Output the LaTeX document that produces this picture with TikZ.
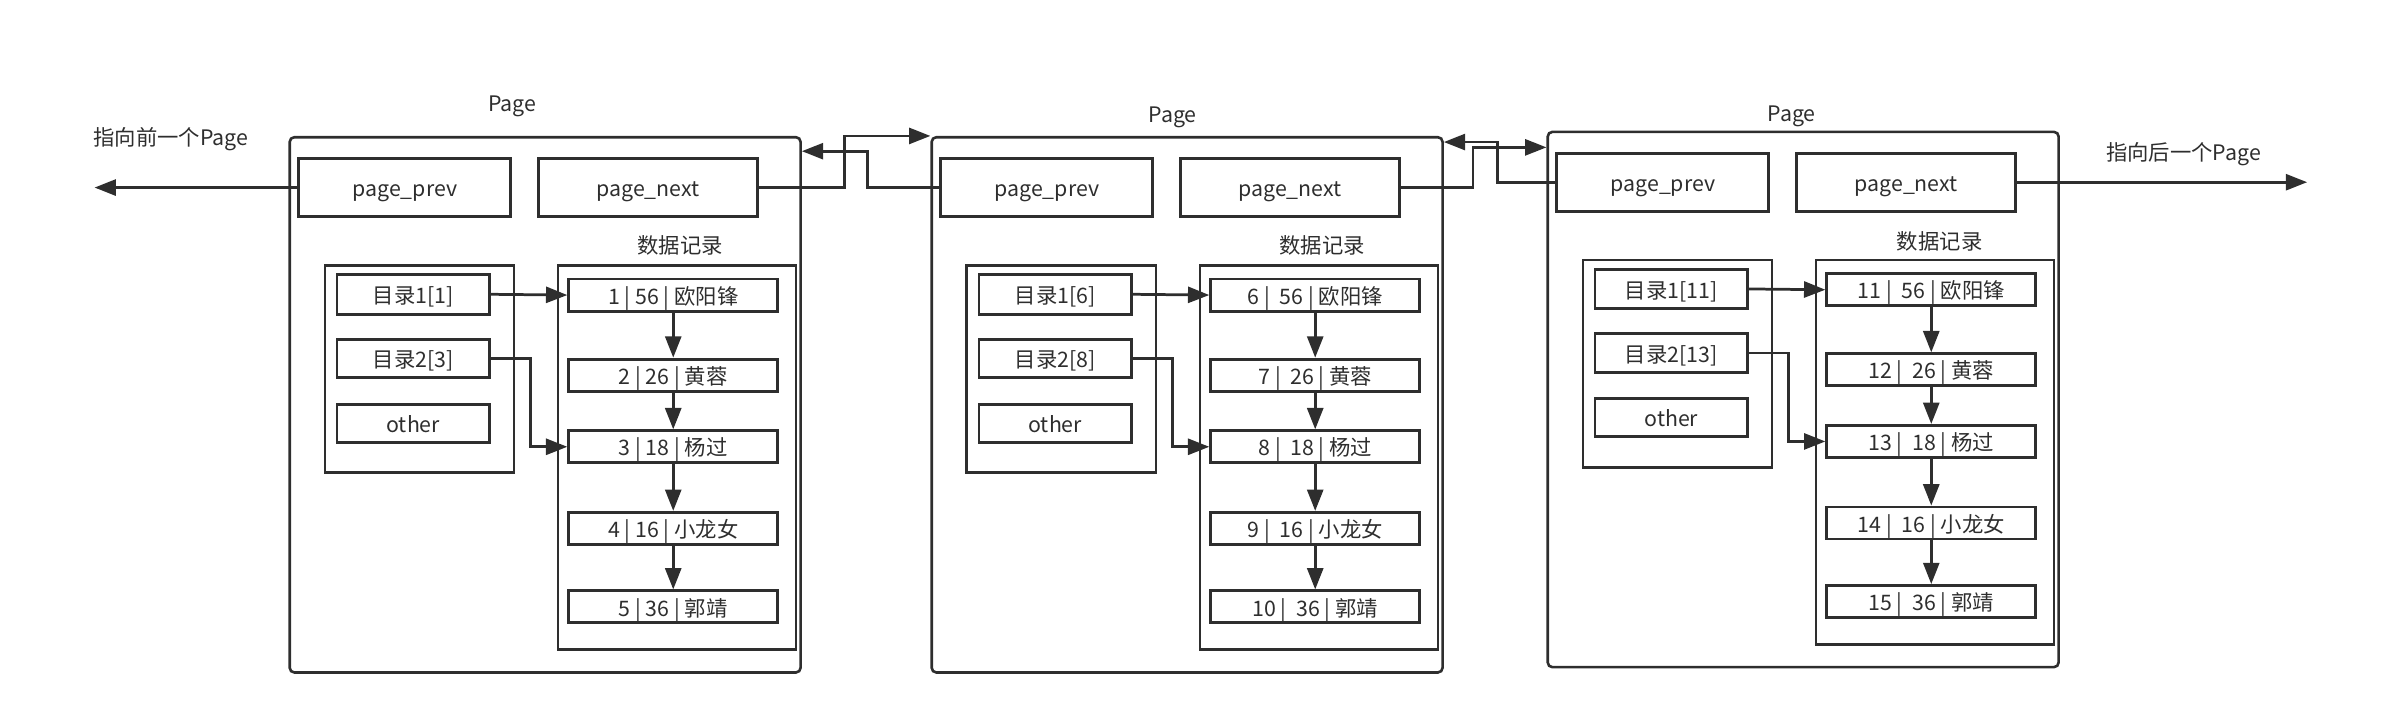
\documentclass[tikz,border=0pt]{standalone}
\usepackage{fontspec}
\setmainfont{Noto Sans CJK SC}
\usetikzlibrary{arrows.meta}
\definecolor{ink}{HTML}{2E2E2E}
\tikzset{
  cell/.style={draw=ink, line width=1.9pt, inner sep=0pt, text=ink, font=\fontsize{14}{16}\selectfont, text height=12pt, text depth=0pt},
  pagebox/.style={draw=ink, line width=1.7pt, rounded corners=3pt, minimum width=335, minimum height=351, inner sep=0pt},
  grp/.style={draw=ink, line width=1.7pt, inner sep=0pt},
  lbl/.style={text=ink, font=\fontsize{14}{16}\selectfont, inner sep=0pt},
  arr/.style={draw=ink, line width=1.8pt, -{Triangle[length=14pt,width=10.5pt]}},
}
\newcommand\mkpage[7]{%
\begin{scope}[shift={(#2,#3)}]
  \node[pagebox] (#1P) at (357.5,265.5) {};
  \node[cell, minimum width=139, minimum height=38] (#1prev) at (265.5,123) {page\_prev};
  \node[cell, minimum width=144, minimum height=38] (#1next) at (425,123) {page\_next};
  \node[grp, minimum width=124, minimum height=136] (#1dir) at (275,242) {};
  \node[grp, minimum width=156, minimum height=252] (#1data) at (444,300) {};
  \node[cell, minimum width=100, minimum height=26] (#1dA) at (271,193) {#5};
  \node[cell, minimum width=100, minimum height=25] (#1dB) at (271,235) {#6};
  \node[cell, minimum width=100, minimum height=25] (#1dO) at (271,277.5) {other};
  \node[cell, minimum width=137, minimum height=21] (#1r1) at (441.5,193.5) {\the\numexpr#4\relax\ |#7 56 | 欧阳锋};
  \node[cell, minimum width=137, minimum height=21] (#1r2) at (441.5,246) {\the\numexpr#4+1\relax\ |#7 26 | 黄蓉};
  \node[cell, minimum width=137, minimum height=21] (#1r3) at (441.5,293) {\the\numexpr#4+2\relax\ |#7 18 | 杨过};
  \node[cell, minimum width=137, minimum height=21] (#1r4) at (441.5,346.5) {\the\numexpr#4+3\relax\ |#7 16 | 小龙女};
  \node[cell, minimum width=137, minimum height=21] (#1r5) at (441.5,398) {\the\numexpr#4+4\relax\ |#7 36 | 郭靖};
  \draw[arr] (#1dA.east) -- (#1r1.west);
  \draw[arr] (#1dB.east) -- ++(26,0) |- (#1r3.west);
  \draw[arr] (#1r1.south) -- (#1r2.north);
  \draw[arr] (#1r2.south) -- (#1r3.north);
  \draw[arr] (#1r3.south) -- (#1r4.north);
  \draw[arr] (#1r4.south) -- (#1r5.north);
\end{scope}}
\begin{document}
\begin{tikzpicture}[x=1pt,y=-1pt]
\useasboundingbox (0,0) rectangle (1568,470);
\mkpage{a}{0}{0}{1}{目录1[1]}{目录2[3]}{}
\mkpage{b}{421}{0}{6}{目录1[6]}{目录2[8]}{\ }
\mkpage{c}{825}{-3.5}{11}{目录1[11]}{目录2[13]}{\ }
% titles
\node[lbl] (ta) at (336,70) {Page};
\node[lbl] (tb) at (769,77) {Page};
\node[lbl] (tc) at (1175,76) {Page};
\node[lbl] (da) at (446,161) {数据记录};
\node[lbl] (db) at (867,161) {数据记录};
\node[lbl] (dc) at (1272,158) {数据记录};
\node[lbl] (prevlbl) at (112,91) {指向前一个Page};
\node[lbl] (nextlbl) at (1432,101) {指向后一个Page};
% external connectors
\coordinate (leftend) at (62,123);
\coordinate (rightend) at (1513,119.5);
\draw[arr] (aprev.west) -- (leftend);
\draw[arr] (cnext.east) -- (rightend);
\draw[arr] (anext.east) -- ++(56,0) |- (bP.north west);
\draw[arr] (bprev.west) -- ++(-47,0) |- ([yshift=-10pt]aP.north east);
\draw[arr] (bnext.east) -- ++(47,0) |- ([yshift=-11pt]cP.north west);
\draw[arr] (cprev.west) -- ++(-38,0) |- ([yshift=-4pt]bP.north east);
\end{tikzpicture}
\end{document}
